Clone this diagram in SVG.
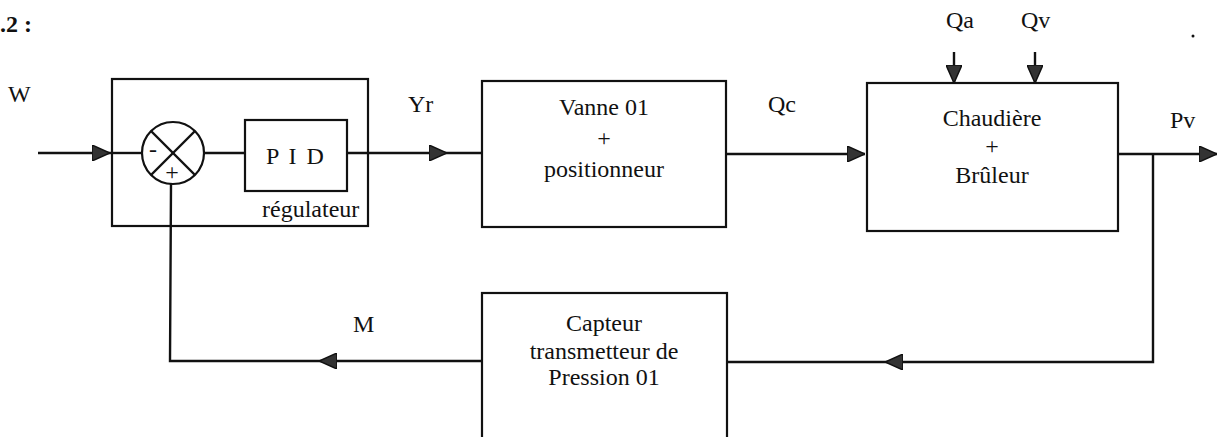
<svg xmlns="http://www.w3.org/2000/svg" width="1221" height="437" viewBox="0 0 1221 437">
<style>
.box{fill:none;stroke:#111;stroke-width:2.2}
.ln{fill:none;stroke:#111;stroke-width:2.4}
.t{font-family:"Liberation Serif","Times New Roman",serif;fill:#111;font-size:24px}
.c{text-anchor:middle}
</style>
<defs>
<marker id="ah" markerUnits="userSpaceOnUse" viewBox="0 0 18 16" refX="18" refY="8" markerWidth="18" markerHeight="16" orient="auto">
<path d="M0,0 L18,8 L0,16 Z" fill="#333" stroke="#111" stroke-width="1.5"/>
</marker>
</defs>
<rect width="1221" height="437" fill="#fff"/>
<text class="t" x="0" y="32" font-weight="bold" font-size="22">.2 :</text>
<circle cx="1193" cy="36" r="1.5" fill="#111"/>

<g id="regulateur">
<rect class="box" x="112" y="79" width="256" height="147"/>
<text class="t" x="262" y="217" font-size="19">régulateur</text>
</g>
<g id="comparateur">
<circle class="box" cx="173" cy="153" r="31"/>
<line class="ln" x1="151" y1="131" x2="195" y2="175" stroke-width="2"/>
<line class="ln" x1="195" y1="131" x2="151" y2="175" stroke-width="2"/>
<text class="t c" x="153" y="157" font-size="20">-</text>
<text class="t c" x="172" y="180" font-size="16">+</text>
</g>
<g id="pid">
<rect class="box" x="245" y="120" width="102" height="71"/>
<text class="t c" x="296" y="164" font-size="26" letter-spacing="2">P I D</text>
</g>
<g id="vanne">
<rect class="box" x="482" y="81" width="244" height="146"/>
<text class="t c" x="604" y="115" font-size="26">Vanne 01</text>
<text class="t c" x="604" y="146" font-size="26">+</text>
<text class="t c" x="604" y="177" font-size="26">positionneur</text>
</g>
<g id="chaudiere">
<rect class="box" x="867" y="83" width="251" height="148"/>
<text class="t c" x="992" y="126" font-size="26">Chaudière</text>
<text class="t c" x="992" y="154" font-size="26">+</text>
<text class="t c" x="992" y="183" font-size="26">Brûleur</text>
</g>
<g id="capteur">
<rect class="box" x="482" y="293" width="245" height="150"/>
<text class="t c" x="604" y="331">Capteur</text>
<text class="t c" x="604" y="359">transmetteur de</text>
<text class="t c" x="604" y="385">Pression 01</text>
</g>

<g id="connectors">
<line class="ln" x1="38" y1="153" x2="110" y2="153" marker-end="url(#ah)"/>
<line class="ln" x1="110" y1="153" x2="142" y2="153"/>
<line class="ln" x1="204" y1="153" x2="245" y2="153"/>
<line class="ln" x1="347" y1="153" x2="447" y2="153" marker-end="url(#ah)"/>
<line class="ln" x1="447" y1="153" x2="482" y2="153"/>
<line class="ln" x1="726" y1="154" x2="865" y2="154" marker-end="url(#ah)"/>
<line class="ln" x1="954" y1="52" x2="954" y2="83" marker-end="url(#ah)"/>
<line class="ln" x1="1035" y1="52" x2="1035" y2="83" marker-end="url(#ah)"/>
<line class="ln" x1="1118" y1="154" x2="1217" y2="154" marker-end="url(#ah)"/>
<polyline class="ln" points="1153,154 1153,362 885,362" marker-end="url(#ah)"/>
<line class="ln" x1="885" y1="362" x2="727" y2="362"/>
<line class="ln" x1="482" y1="361" x2="319" y2="361" marker-end="url(#ah)"/>
<polyline class="ln" points="319,361 170,361 171,184"/>
</g>

<g id="labels">
<text class="t" x="8" y="102">W</text>
<text class="t" x="408" y="112">Yr</text>
<text class="t" x="768" y="112">Qc</text>
<text class="t" x="946" y="28">Qa</text>
<text class="t" x="1021" y="28">Qv</text>
<text class="t" x="1170" y="128">Pv</text>
<text class="t" x="353" y="332">M</text>
</g>
</svg>
